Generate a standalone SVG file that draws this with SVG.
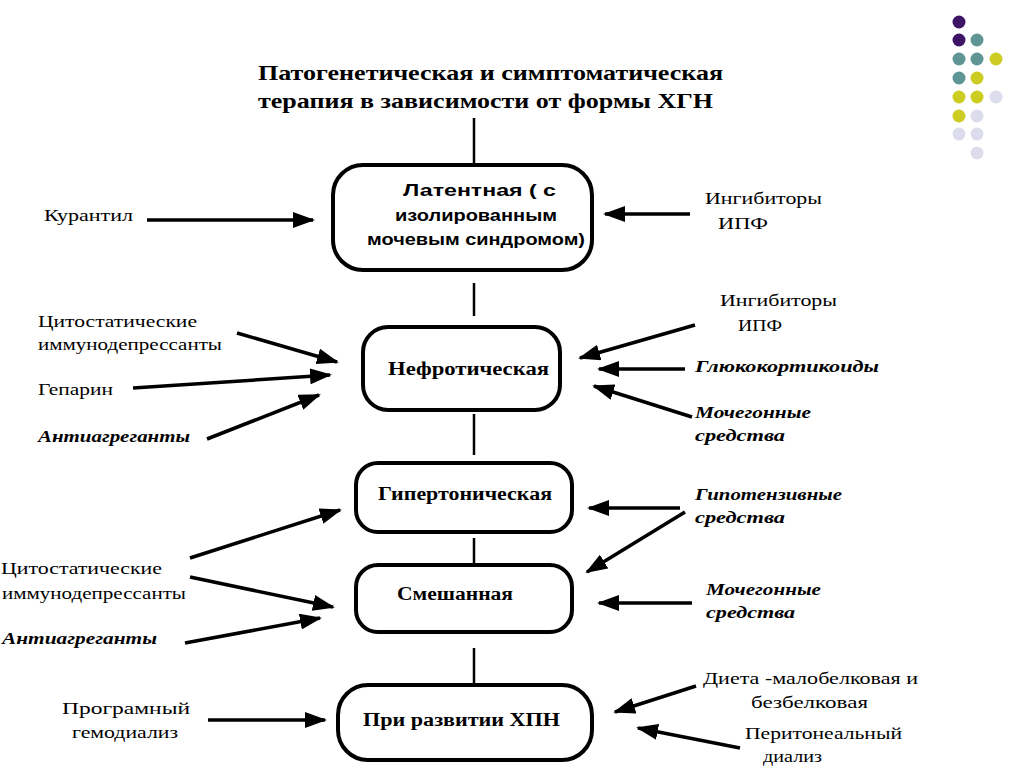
<svg xmlns="http://www.w3.org/2000/svg" width="1024" height="767" viewBox="0 0 1024 767">
<style>
.box{fill:#fff;stroke:#000;stroke-width:4}
.ln{stroke:#000;stroke-width:2.5;fill:none}
.ar{stroke:#000;stroke-width:3.5;fill:none;marker-end:url(#ah)}
.t{font-family:"Liberation Serif","Times New Roman",serif;font-size:17px;fill:#000}
.bi{font-family:"Liberation Serif","Times New Roman",serif;font-size:17px;font-weight:bold;font-style:italic;fill:#000}
.bs{font-family:"Liberation Sans",Arial,sans-serif;font-size:16px;font-weight:bold;fill:#000}
.bt{font-family:"Liberation Serif","Times New Roman",serif;font-size:18px;font-weight:bold;fill:#000}
.ti{font-family:"Liberation Serif","Times New Roman",serif;font-size:22px;font-weight:bold;fill:#000}
</style>
<defs>
<marker id="ah" markerUnits="userSpaceOnUse" markerWidth="22" markerHeight="16" refX="20" refY="8" orient="auto">
<path d="M0,0 L22,8 L0,16 z" fill="#000"/>
</marker>
</defs>
<rect width="1024" height="767" fill="#fff"/>
<g id="dots">
<circle cx="959" cy="22" r="6.5" fill="#3d1466"/>
<circle cx="959" cy="40" r="6.5" fill="#3d1466"/>
<circle cx="977" cy="40" r="6.5" fill="#5f9595"/>
<circle cx="959" cy="59" r="6.5" fill="#5f9595"/>
<circle cx="977" cy="59" r="6.5" fill="#5f9595"/>
<circle cx="996" cy="59" r="6.5" fill="#cccc22"/>
<circle cx="959" cy="78" r="6.5" fill="#5f9595"/>
<circle cx="977" cy="78" r="6.5" fill="#cccc22"/>
<circle cx="959" cy="97" r="6.5" fill="#cccc22"/>
<circle cx="977" cy="97" r="6.5" fill="#cccc22"/>
<circle cx="996" cy="97" r="6.5" fill="#dcdcec"/>
<circle cx="959" cy="116" r="6.5" fill="#cccc22"/>
<circle cx="977" cy="116" r="6.5" fill="#dcdcec"/>
<circle cx="959" cy="134" r="6.5" fill="#dcdcec"/>
<circle cx="977" cy="134" r="6.5" fill="#dcdcec"/>
<circle cx="977" cy="153" r="6.5" fill="#dcdcec"/>
</g>
<g id="title">
<text class="ti" x="258" y="80" textLength="465" lengthAdjust="spacingAndGlyphs">Патогенетическая и симптоматическая</text>
<text class="ti" x="258" y="108" textLength="455" lengthAdjust="spacingAndGlyphs">терапия в зависимости от формы ХГН</text>
</g>
<g id="connectors">
<line class="ln" x1="474" y1="118" x2="474" y2="165"/>
<line class="ln" x1="474" y1="283" x2="474" y2="316"/>
<line class="ln" x1="474" y1="414" x2="474" y2="455"/>
<line class="ln" x1="474" y1="538" x2="474" y2="565"/>
<line class="ln" x1="474" y1="648" x2="474" y2="685"/>
<line class="ar" x1="147" y1="220" x2="313" y2="220"/>
<line class="ar" x1="690" y1="214" x2="605" y2="214"/>
<line class="ar" x1="237" y1="333" x2="337" y2="362"/>
<line class="ar" x1="133" y1="388" x2="330" y2="375"/>
<line class="ar" x1="207" y1="439" x2="319" y2="395"/>
<line class="ar" x1="695" y1="325" x2="580" y2="358"/>
<line class="ar" x1="685" y1="369" x2="599" y2="369"/>
<line class="ar" x1="692" y1="417" x2="594" y2="386"/>
<line class="ar" x1="190" y1="558" x2="340" y2="510"/>
<line class="ar" x1="190" y1="577" x2="333" y2="607"/>
<line class="ar" x1="185" y1="643" x2="320" y2="618"/>
<line class="ar" x1="680" y1="508" x2="589" y2="508"/>
<line class="ar" x1="685" y1="512" x2="587" y2="572"/>
<line class="ar" x1="692" y1="603" x2="599" y2="603"/>
<line class="ar" x1="208" y1="720" x2="325" y2="720"/>
<line class="ar" x1="696" y1="686" x2="615" y2="712"/>
<line class="ar" x1="740" y1="748" x2="638" y2="728"/>
</g>
<g id="n-latent">
<rect class="box" x="333" y="165" width="259" height="105" rx="30"/>
<text class="bs" x="403" y="196" textLength="153" lengthAdjust="spacingAndGlyphs">Латентная ( с</text>
<text class="bs" x="395" y="221" textLength="162" lengthAdjust="spacingAndGlyphs">изолированным</text>
<text class="bs" x="367" y="245" textLength="218" lengthAdjust="spacingAndGlyphs">мочевым синдромом)</text>
</g>
<g id="n-nephrotic">
<rect class="box" x="363" y="327" width="197" height="83" rx="25"/>
<text class="bt" x="388" y="375" textLength="161" lengthAdjust="spacingAndGlyphs">Нефротическая</text>
</g>
<g id="n-hyper">
<rect class="box" x="356" y="463" width="216" height="69" rx="22"/>
<text class="bt" x="378" y="500" textLength="174" lengthAdjust="spacingAndGlyphs">Гипертоническая</text>
</g>
<g id="n-mixed">
<rect class="box" x="356" y="565" width="216" height="67" rx="22"/>
<text class="bt" x="397" y="600" textLength="116" lengthAdjust="spacingAndGlyphs">Смешанная</text>
</g>
<g id="n-hpn">
<rect class="box" x="338" y="685" width="254" height="75" rx="30"/>
<text class="bt" x="363" y="726" textLength="197" lengthAdjust="spacingAndGlyphs">При развитии ХПН</text>
</g>
<g id="labels-left">
<text class="t" x="44" y="221" textLength="89" lengthAdjust="spacingAndGlyphs">Курантил</text>
<text class="t" x="38" y="327" textLength="159" lengthAdjust="spacingAndGlyphs">Цитостатические</text>
<text class="t" x="38" y="350" textLength="184" lengthAdjust="spacingAndGlyphs">иммунодепрессанты</text>
<text class="t" x="38" y="395" textLength="75" lengthAdjust="spacingAndGlyphs">Гепарин</text>
<text class="bi" x="38" y="442" textLength="152" lengthAdjust="spacingAndGlyphs">Антиагреганты</text>
<text class="t" x="1" y="574" textLength="161" lengthAdjust="spacingAndGlyphs">Цитостатические</text>
<text class="t" x="2" y="599" textLength="184" lengthAdjust="spacingAndGlyphs">иммунодепрессанты</text>
<text class="bi" x="2" y="644" textLength="155" lengthAdjust="spacingAndGlyphs">Антиагреганты</text>
<text class="t" x="62" y="714" textLength="128" lengthAdjust="spacingAndGlyphs">Програмный</text>
<text class="t" x="72" y="738" textLength="106" lengthAdjust="spacingAndGlyphs">гемодиализ</text>
</g>
<g id="labels-right">
<text class="t" x="705" y="204" textLength="117" lengthAdjust="spacingAndGlyphs">Ингибиторы</text>
<text class="t" x="718" y="229" textLength="50" lengthAdjust="spacingAndGlyphs">ИПФ</text>
<text class="t" x="720" y="306" textLength="117" lengthAdjust="spacingAndGlyphs">Ингибиторы</text>
<text class="t" x="738" y="331" textLength="44" lengthAdjust="spacingAndGlyphs">ИПФ</text>
<text class="bi" x="695" y="372" textLength="184" lengthAdjust="spacingAndGlyphs">Глюкокортикоиды</text>
<text class="bi" x="695" y="418" textLength="116" lengthAdjust="spacingAndGlyphs">Мочегонные</text>
<text class="bi" x="695" y="441" textLength="90" lengthAdjust="spacingAndGlyphs">средства</text>
<text class="bi" x="695" y="500" textLength="147" lengthAdjust="spacingAndGlyphs">Гипотензивные</text>
<text class="bi" x="695" y="523" textLength="90" lengthAdjust="spacingAndGlyphs">средства</text>
<text class="bi" x="706" y="595" textLength="115" lengthAdjust="spacingAndGlyphs">Мочегонные</text>
<text class="bi" x="706" y="618" textLength="89" lengthAdjust="spacingAndGlyphs">средства</text>
<text class="t" x="703" y="684" textLength="215" lengthAdjust="spacingAndGlyphs">Диета -малобелковая и</text>
<text class="t" x="751" y="708" textLength="117" lengthAdjust="spacingAndGlyphs">безбелковая</text>
<text class="t" x="745" y="739" textLength="157" lengthAdjust="spacingAndGlyphs">Перитонеальный</text>
<text class="t" x="763" y="762" textLength="59" lengthAdjust="spacingAndGlyphs">диализ</text>
</g>
</svg>
